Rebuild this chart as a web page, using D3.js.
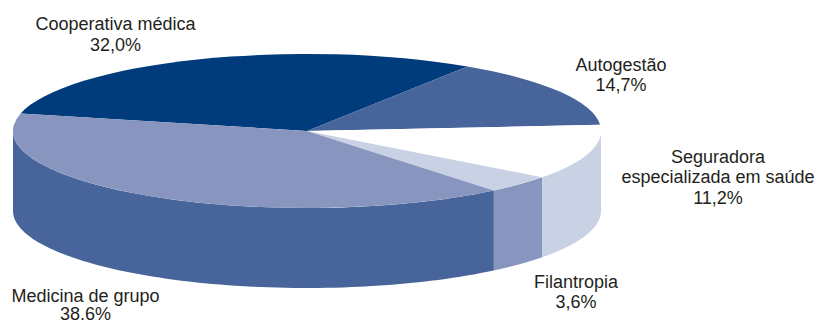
<!DOCTYPE html>
<html><head><meta charset="utf-8">
<script src="https://cdn.jsdelivr.net/npm/d3@7"></script>
<style>html,body{margin:0;padding:0;background:#fff}svg{display:block}text{font-family:"Liberation Sans",Arial,sans-serif;font-size:18px;fill:#231f20;text-anchor:middle}</style>
</head><body><svg id="c" width="818" height="321"></svg>
<script>
const categories=["Cooperativa médica","Autogestão","Seguradora especializada em saúde","Filantropia","Medicina de grupo"];
const values=[32.0,14.7,11.2,3.6,38.6];
const valueLabels=["32,0%","14,7%","11,2%","3,6%","38.6%"];
const topColors=["#003b7c","#47659b","#ffffff","#c9d1e5","#8896bf"];
const wallColors=["#003b7c","#47659b","#c9d1e5","#8896bf","#47659b"];
const labelLines=[["Cooperativa médica","32,0%"],["Autogestão","14,7%"],["Seguradora","especializada em saúde","11,2%"],["Filantropia","3,6%"],["Medicina de grupo","38.6%"]];
const labelAt=[[115.5,30],[621,70.5],[718,163],[576,287.5],[85.5,301.5]];
const lineGap=[20.5,20.5,20.3,20.7,18.5];

const cx=307,cy=131,rx=294,ry=77,depth=80;
const rad=Math.PI/180;
// d3.pie gives true angles; the tilted view compresses them a little on the ellipse
const pie=d3.pie().sort(null).value(d=>d).startAngle(0).endAngle(2*Math.PI);
const rot=-79.5*rad,kS=-3*rad,kC=-1*rad;
function view(a){let p=a+rot;for(let i=0;i<8;i++)p=a+rot+kS*Math.sin(p)+kC*Math.cos(p);return p;}
const arcs=pie(values).map(d=>({index:d.index,a0:view(d.startAngle),a1:view(d.endAngle)}));

const svg=d3.select("#c");
const px=a=>cx+rx*Math.sin(a),py=a=>cy-ry*Math.cos(a);
const line=d3.line();
// walls
arcs.forEach(d=>{
  let s=d.a0,e=d.a1;
  s=Math.max(s,Math.PI/2);e=Math.min(e,1.5*Math.PI);
  if(e<=s)return;
  const n=80,A=d3.range(n+1).map(i=>s+(e-s)*i/n);
  const up=A.map(a=>[px(a),py(a)]),dn=A.slice().reverse().map(a=>[px(a),py(a)+depth]);
  svg.append("path").attr("d",line(up.concat(dn))+"Z").attr("fill",wallColors[d.index]);
});
// top
const arc=d3.arc().innerRadius(0).outerRadius(1);
svg.append("g").attr("transform",`translate(${cx},${cy}) scale(${rx},${ry})`)
  .selectAll("path").data(arcs).join("path")
  .attr("d",d=>arc({startAngle:d.a0,endAngle:d.a1}))
  .attr("fill",d=>topColors[d.index]);
// labels
labelLines.forEach((ls,i)=>{
  const t=svg.append("text").attr("x",labelAt[i][0]).attr("y",labelAt[i][1]);
  ls.forEach((l,j)=>t.append("tspan").attr("x",labelAt[i][0]).attr("y",labelAt[i][1]+j*lineGap[i]).text(l));
});
</script></body></html>
